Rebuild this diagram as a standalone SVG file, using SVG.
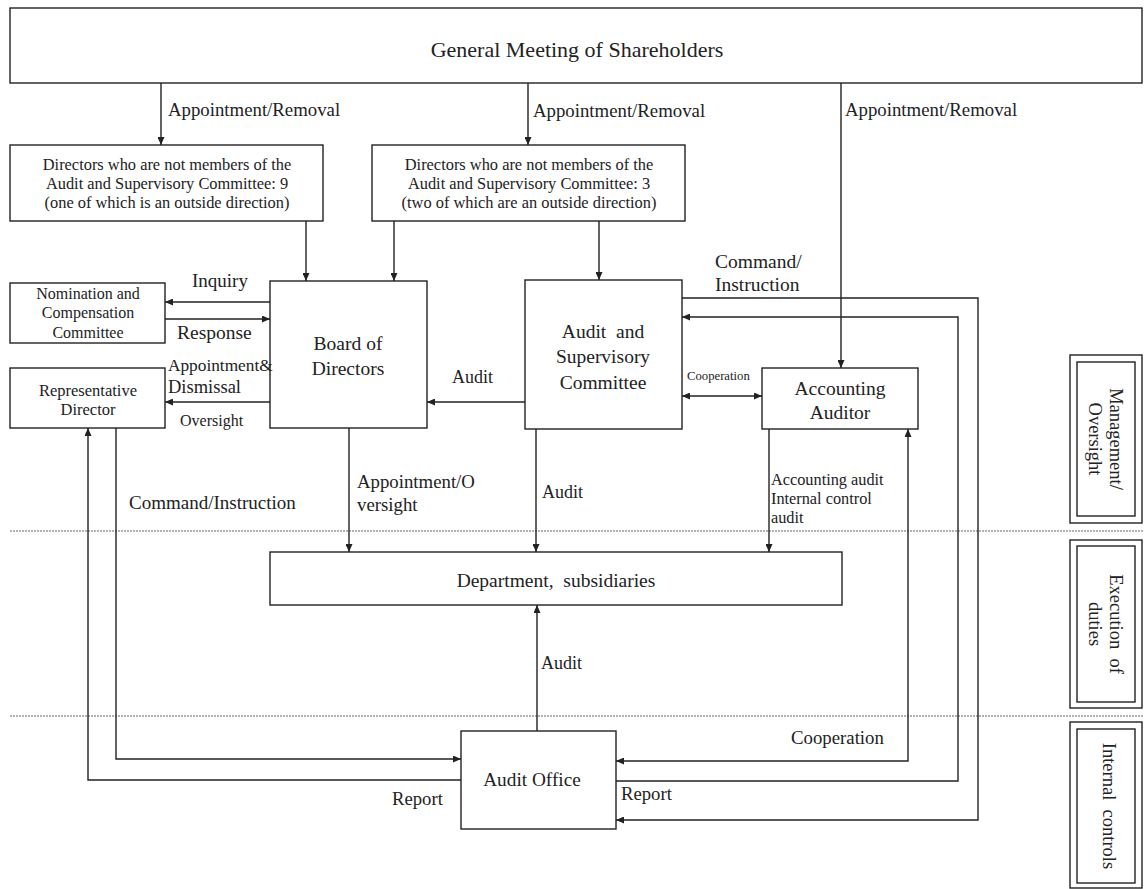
<svg xmlns="http://www.w3.org/2000/svg" width="1144" height="889" viewBox="0 0 1144 889">
<defs>
<marker id="ah" viewBox="0 0 8 7" refX="8" refY="3.5" markerUnits="userSpaceOnUse" markerWidth="8" markerHeight="7" orient="auto-start-reverse">
<path d="M0,0 L8,3.5 L0,7 z" fill="#222"/>
</marker>
<style>
.box{fill:#fff;stroke:#222;stroke-width:1.4}
.ln{fill:none;stroke:#222;stroke-width:1.4}
.dot{fill:none;stroke:#666;stroke-width:1.2;stroke-dasharray:2 1}
.t{font-family:"Liberation Serif","Times New Roman",serif;fill:#222}
.c{text-anchor:middle}
</style>
</defs>
<rect width="1144" height="889" fill="#fff"/>

<g id="dividers">
<line class="dot" x1="10" y1="531" x2="1144" y2="531"/>
<line class="dot" x1="10" y1="716" x2="1144" y2="716"/>
</g>

<g id="shareholders">
<rect class="box" x="10" y="8" width="1132" height="75"/>
<text class="t c" x="577" y="57" font-size="22">General Meeting of Shareholders</text>
</g>

<g id="directors9">
<rect class="box" x="10" y="145" width="313" height="76"/>
<text class="t c" font-size="16.4" x="167"><tspan x="167" y="170">Directors who are not members of the</tspan><tspan x="167" y="189">Audit and Supervisory Committee: 9</tspan><tspan x="167" y="208">(one of which is an outside direction)</tspan></text>
</g>

<g id="directors3">
<rect class="box" x="372" y="145" width="313" height="76"/>
<text class="t c" font-size="16.4" x="529"><tspan x="529" y="170">Directors who are not members of the</tspan><tspan x="529" y="189">Audit and Supervisory Committee: 3</tspan><tspan x="529" y="208">(two of which are an outside direction)</tspan></text>
</g>

<g id="nomination">
<rect class="box" x="10" y="283" width="155" height="60"/>
<text class="t c" font-size="16"><tspan x="88" y="299">Nomination and</tspan><tspan x="88" y="318">Compensation</tspan><tspan x="88" y="338">Committee</tspan></text>
</g>

<g id="representative">
<rect class="box" x="10" y="368" width="155" height="60"/>
<text class="t c" font-size="16.5"><tspan x="88" y="396">Representative</tspan><tspan x="88" y="415">Director</tspan></text>
</g>

<g id="board">
<rect class="box" x="270" y="281" width="157" height="147"/>
<text class="t c" font-size="19.5"><tspan x="348" y="350">Board of</tspan><tspan x="348" y="375">Directors</tspan></text>
</g>

<g id="asc">
<rect class="box" x="525" y="280" width="157" height="149"/>
<text class="t c" font-size="19.5"><tspan x="603" y="338" xml:space="preserve">Audit  and</tspan><tspan x="603" y="363">Supervisory</tspan><tspan x="603" y="389">Committee</tspan></text>
</g>

<g id="accounting-auditor">
<rect class="box" x="762" y="368" width="156" height="61"/>
<text class="t c" font-size="19.5"><tspan x="840" y="395">Accounting</tspan><tspan x="840" y="419">Auditor</tspan></text>
</g>

<g id="department">
<rect class="box" x="270" y="552" width="572" height="53"/>
<text class="t c" x="556" y="587" font-size="19.5" xml:space="preserve">Department,  subsidiaries</text>
</g>

<g id="audit-office">
<rect class="box" x="461" y="731" width="155" height="98"/>
<text class="t c" x="532" y="786" font-size="19.3">Audit Office</text>
</g>

<g id="label-management">
<rect class="box" x="1070" y="355" width="72" height="168"/>
<rect class="box" x="1077" y="362" width="58" height="154"/>
<text class="t c" font-size="18.5" transform="translate(1106,439) rotate(90)"><tspan x="0" y="-3.5">Management/</tspan><tspan x="0" y="17.5">Oversight</tspan></text>
</g>

<g id="label-execution">
<rect class="box" x="1070" y="540" width="72" height="168"/>
<rect class="box" x="1077" y="546" width="58" height="156"/>
<text class="t c" font-size="18.5" transform="translate(1106,624) rotate(90)"><tspan x="0" y="-3.5" xml:space="preserve">Execution  of</tspan><tspan x="0" y="17.5">duties</tspan></text>
</g>

<g id="label-internal">
<rect class="box" x="1070" y="722" width="72" height="166"/>
<rect class="box" x="1077" y="729" width="58" height="154"/>
<text class="t c" font-size="18.5" transform="translate(1106,806) rotate(90)" xml:space="preserve"><tspan x="0" y="3.5">Internal  controls</tspan></text>
</g>

<g id="connectors">
<path class="ln" d="M161,83 V145" marker-end="url(#ah)"/>
<path class="ln" d="M528,83 V145" marker-end="url(#ah)"/>
<path class="ln" d="M841,83 V368" marker-end="url(#ah)"/>
<path class="ln" d="M306,221 V281" marker-end="url(#ah)"/>
<path class="ln" d="M394,221 V281" marker-end="url(#ah)"/>
<path class="ln" d="M599,221 V280" marker-end="url(#ah)"/>
<path class="ln" d="M270,302 H165" marker-end="url(#ah)"/>
<path class="ln" d="M165,319 H270" marker-end="url(#ah)"/>
<path class="ln" d="M270,402 H165" marker-end="url(#ah)"/>
<path class="ln" d="M525,402 H427" marker-end="url(#ah)"/>
<path class="ln" d="M682,396 H762" marker-start="url(#ah)" marker-end="url(#ah)"/>
<path class="ln" d="M349,428 V552" marker-end="url(#ah)"/>
<path class="ln" d="M536,429 V552" marker-end="url(#ah)"/>
<path class="ln" d="M769,429 V552" marker-end="url(#ah)"/>
<path class="ln" d="M537,731 V605" marker-end="url(#ah)"/>
<path class="ln" d="M116,428 V759 H461" marker-end="url(#ah)"/>
<path class="ln" d="M461,780 H88 V428" marker-end="url(#ah)"/>
<path class="ln" d="M682,298 H978 V820 H616" marker-end="url(#ah)"/>
<path class="ln" d="M616,781 H958 V317 H682" marker-end="url(#ah)"/>
<path class="ln" d="M908,429 V761 H616" marker-start="url(#ah)" marker-end="url(#ah)"/>
</g>

<g id="connector-labels">
<text class="t" x="168" y="116" font-size="18.8">Appointment/Removal</text>
<text class="t" x="533" y="117" font-size="18.8">Appointment/Removal</text>
<text class="t" x="845" y="116" font-size="18.8">Appointment/Removal</text>
<text class="t" x="192" y="287" font-size="19">Inquiry</text>
<text class="t" x="177" y="339" font-size="19.5">Response</text>
<text class="t" x="168" y="371" font-size="17.3">Appointment&amp;</text>
<text class="t" x="168" y="393" font-size="18.5">Dismissal</text>
<text class="t" x="180" y="426" font-size="16">Oversight</text>
<text class="t" x="452" y="383" font-size="18">Audit</text>
<text class="t" x="687" y="380" font-size="12.7">Cooperation</text>
<text class="t" font-size="19.5"><tspan x="715" y="268">Command/</tspan><tspan x="715" y="291">Instruction</tspan></text>
<text class="t" x="129" y="509" font-size="19">Command/Instruction</text>
<text class="t" font-size="18.8"><tspan x="357" y="488">Appointment/O</tspan><tspan x="357" y="511">versight</tspan></text>
<text class="t" x="542" y="498" font-size="18">Audit</text>
<text class="t" font-size="16.3"><tspan x="771" y="485">Accounting audit</tspan><tspan x="771" y="504">Internal control</tspan><tspan x="771" y="523">audit</tspan></text>
<text class="t" x="541" y="669" font-size="18">Audit</text>
<text class="t" x="791" y="744" font-size="18.8">Cooperation</text>
<text class="t" x="392" y="805" font-size="18.7">Report</text>
<text class="t" x="621" y="800" font-size="18.7">Report</text>
</g>
</svg>
